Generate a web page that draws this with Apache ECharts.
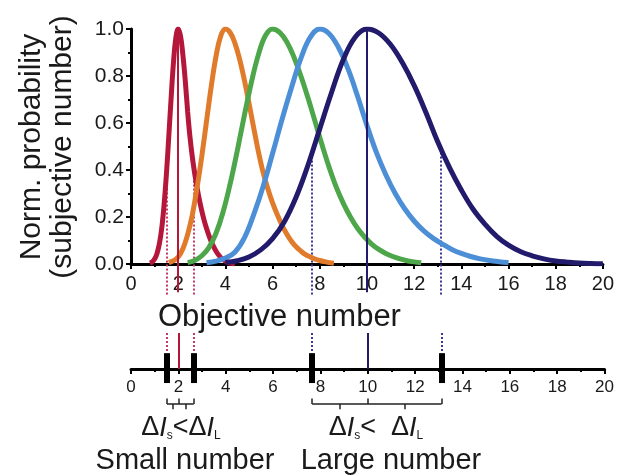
<!DOCTYPE html>
<html><head><meta charset="utf-8">
<script src="https://cdn.jsdelivr.net/npm/echarts@6/dist/echarts.min.js"></script>
<style>html,body{margin:0;padding:0;background:#fff}#c{width:617px;height:475px}</style>
</head><body><div id="c"></div>
<script>
// ---- data ----
const redX    = [0.8, 0.9, 1.0, 1.1, 1.2, 1.3, 1.4, 1.5, 1.6, 1.7, 1.8, 1.9, 2.0, 2.1, 2.2, 2.3, 2.4, 2.5, 2.6, 2.7, 2.8, 2.9, 3.0, 3.1, 3.2, 3.3, 3.4, 3.5, 3.6, 3.7, 3.8, 3.9, 4.0, 4.1, 4.2, 4.3, 4.4];
const redY    = [0.004, 0.009, 0.021, 0.044, 0.085, 0.15, 0.25, 0.38, 0.54, 0.705, 0.857, 0.962, 1.0, 0.969, 0.889, 0.78, 0.65, 0.54, 0.455, 0.385, 0.325, 0.272, 0.226, 0.186, 0.152, 0.122, 0.096, 0.074, 0.055, 0.04, 0.028, 0.019, 0.012, 0.007, 0.004, 0.002, 0.001];
const orangeX = [1.6, 1.8, 2.0, 2.2, 2.4, 2.6, 2.8, 3.0, 3.2, 3.4, 3.6, 3.8, 4.0, 4.2, 4.4, 4.6, 4.8, 5.0, 5.2, 5.4, 5.6, 5.8, 6.0, 6.2, 6.4, 6.6, 6.8, 7.0, 7.2, 7.4, 7.6, 7.8, 8.0, 8.2, 8.4, 8.6];
const orangeY = [0.006, 0.014, 0.03, 0.065, 0.125, 0.21, 0.325, 0.458, 0.607, 0.755, 0.882, 0.969, 1.0, 0.985, 0.941, 0.873, 0.785, 0.685, 0.58, 0.478, 0.39, 0.32, 0.26, 0.21, 0.165, 0.128, 0.097, 0.073, 0.055, 0.04, 0.03, 0.021, 0.015, 0.01, 0.006, 0.003];
const greenX  = [2.4, 2.7, 3.0, 3.3, 3.6, 3.9, 4.2, 4.5, 4.8, 5.1, 5.4, 5.7, 6.0, 6.3, 6.6, 6.9, 7.2, 7.5, 7.8, 8.1, 8.4, 8.7, 9.0, 9.3, 9.6, 9.9, 10.2, 10.5, 10.8, 11.1, 11.4, 11.7, 12.0, 12.3];
const greenY  = [0.006, 0.015, 0.035, 0.07, 0.13, 0.22, 0.34, 0.48, 0.63, 0.772, 0.891, 0.972, 1.0, 0.986, 0.946, 0.882, 0.8, 0.707, 0.607, 0.506, 0.411, 0.327, 0.258, 0.2, 0.152, 0.115, 0.085, 0.062, 0.045, 0.032, 0.022, 0.014, 0.009, 0.005];
const blueX   = [3.2, 3.6, 4.0, 4.4, 4.8, 5.2, 5.6, 6.0, 6.4, 6.8, 7.2, 7.6, 8.0, 8.4, 8.8, 9.2, 9.6, 10.0, 10.4, 10.8, 11.2, 11.6, 12.0, 12.4, 12.8, 13.2, 13.6, 14.0, 14.4, 14.8, 15.2, 15.6, 16.0];
const blueY   = [0.005, 0.012, 0.025, 0.05, 0.11, 0.21, 0.33, 0.47, 0.615, 0.75, 0.875, 0.965, 1.0, 0.98, 0.92, 0.83, 0.715, 0.59, 0.475, 0.38, 0.3, 0.235, 0.183, 0.142, 0.11, 0.085, 0.062, 0.045, 0.032, 0.022, 0.015, 0.01, 0.006];
const navyX   = [4.0, 4.5, 5.0, 5.5, 6.0, 6.5, 7.0, 7.5, 8.0, 8.5, 9.0, 9.5, 10.0, 10.5, 11.0, 11.5, 12.0, 12.5, 13.0, 13.5, 14.0, 14.5, 15.0, 15.5, 16.0, 16.5, 17.0, 17.5, 18.0, 18.5, 19.0, 19.5, 20.0];
const navyY   = [0.006, 0.014, 0.03, 0.06, 0.108, 0.18, 0.285, 0.42, 0.575, 0.73, 0.87, 0.965, 1.0, 0.983, 0.934, 0.857, 0.76, 0.645, 0.52, 0.41, 0.315, 0.233, 0.17, 0.118, 0.08, 0.053, 0.035, 0.022, 0.013, 0.008, 0.004, 0.002, 0.001];

const means        = [2, 10];
const bounds       = [1.52, 2.65, 7.65, 13.12];
const boundHeights = [0.4, 0.42, 0.48, 0.48];
const bracketSmall = [1.52, 2.0, 2.65];
const bracketLarge = [7.65, 10.0, 13.12];

const xMin = 0, xMax = 20, xStep = 2;
const yMin = 0, yMax = 1, yStep = 0.2;

// ---- styling ----
const FONT = "'Liberation Sans', Arial, Helvetica, sans-serif";
const INK = '#1a1a1a';
const colors = { red: '#b5173b', orange: '#e07b2b', green: '#4ea64b', blue: '#4d8fd6', navy: '#221b6c' };
const meanColors  = [colors.red, colors.navy];
const boundColors = ['#c43a62', '#c43a62', '#3b3799', '#3b3799'];

const pairs = (xs, ys) => xs.map((x, i) => [x, ys[i]]);

function curveSeries(xs, ys, color) {
  return { type: 'line', xAxisIndex: 0, yAxisIndex: 0, data: pairs(xs, ys), symbol: 'none',
           smooth: 0.4, lineStyle: { color, width: 5 }, z: 3, silent: true };
}
const ls = (color, width, type) => ({ color, width, type, opacity: 1, cap: 'butt' });

// upper guide lines
const upperDotted = bounds.map((b, i) => ({ coords: [[b, -0.13], [b, boundHeights[i]]],
  lineStyle: ls(boundColors[i], 2, [2, 2]) }));
const upperSolid = means.map((m, i) => ({ coords: [[m, -0.12], [m, 1]],
  lineStyle: ls(meanColors[i], 2, 'solid') }));
// lower number line marks
const lowerDotted = bounds.map((b, i) => ({ coords: [[b, 1], [b, 0.44]],
  lineStyle: ls(boundColors[i], 2, [2, 2]) }));
const lowerSolid = means.map((m, i) => ({ coords: [[m, 1], [m, 0]],
  lineStyle: ls(meanColors[i], 2, 'solid') }));
const lowerBars = bounds.map(b => ({ coords: [[b, 0.44], [b, -0.39]],
  lineStyle: ls('#000', 6, 'solid') }));

function bracket(pts) {
  const segs = [];
  const yb = -0.97;
  const st = ls('#222', 1.5, 'solid');
  segs.push({ coords: [[pts[0], yb], [pts[2], yb]], lineStyle: st });
  pts.forEach(p => segs.push({ coords: [[p, yb], [p, -0.82]], lineStyle: st }));
  const c1 = (pts[0] + pts[1]) / 2, c2 = (pts[1] + pts[2]) / 2;
  segs.push({ coords: [[c1, yb], [c1, -1.12]], lineStyle: st });
  segs.push({ coords: [[c2, yb], [c2, -1.12]], lineStyle: st });
  return segs;
}

const xAxisCommon = {
  type: 'value', min: xMin, max: xMax, interval: xStep,
  splitLine: { show: false },
  axisLine: { onZero: false, lineStyle: { color: '#000', width: 3 } },
  axisTick: { lineStyle: { color: '#000', width: 2 }, length: 5 },
  minorTick: { show: true, splitNumber: 2, length: 3, lineStyle: { color: '#000', width: 2 } },
  minorSplitLine: { show: false }
};

const richSub = {
  n: { fontSize: 27, fontFamily: FONT, fill: INK, lineHeight: 28 },
  i: { fontSize: 27, fontFamily: FONT, fontStyle: 'italic', fill: INK, lineHeight: 28 },
  s: { fontSize: 12, fontFamily: FONT, fill: INK, lineHeight: 12, verticalAlign: 'bottom' }
};

const option = {
  animation: false,
  backgroundColor: '#fff',
  grid: [
    { left: 131, right: 9, top: 29, bottom: 211 },
    { left: 131, right: 9, top: 333, bottom: 106 }
  ],
  xAxis: [
    Object.assign({}, xAxisCommon, { gridIndex: 0,
      axisLabel: { color: INK, fontSize: 20, fontFamily: FONT, margin: 10, showMaxLabel: true } }),
    Object.assign({}, xAxisCommon, { gridIndex: 1,
      axisLabel: { color: INK, fontSize: 17, fontFamily: FONT, margin: 10, showMaxLabel: true } })
  ],
  yAxis: [
    { type: 'value', gridIndex: 0, min: yMin, max: yMax, interval: yStep,
      splitLine: { show: false },
      axisLine: { show: true, lineStyle: { color: '#000', width: 3 } },
      axisTick: { show: true, length: 5, lineStyle: { color: '#000', width: 2 } },
      minorTick: { show: true, splitNumber: 2, length: 3, lineStyle: { color: '#000', width: 2 } },
      axisLabel: { color: INK, fontSize: 21, fontFamily: FONT, margin: 7, formatter: v => v.toFixed(1) } },
    { type: 'value', gridIndex: 1, min: 0, max: 1, show: false, splitLine: { show: false } }
  ],
  series: [
    { type: 'lines', coordinateSystem: 'cartesian2d', xAxisIndex: 0, yAxisIndex: 0, clip: false,
      data: upperDotted, z: 2, silent: true },
    curveSeries(redX, redY, colors.red),
    curveSeries(orangeX, orangeY, colors.orange),
    curveSeries(greenX, greenY, colors.green),
    curveSeries(blueX, blueY, colors.blue),
    curveSeries(navyX, navyY, colors.navy),
    { type: 'lines', coordinateSystem: 'cartesian2d', xAxisIndex: 0, yAxisIndex: 0, clip: false,
      data: upperSolid, z: 4, silent: true },
    { type: 'lines', coordinateSystem: 'cartesian2d', xAxisIndex: 1, yAxisIndex: 1, clip: false,
      data: lowerDotted.concat(lowerSolid), z: 2, silent: true },
    { type: 'lines', coordinateSystem: 'cartesian2d', xAxisIndex: 1, yAxisIndex: 1, clip: false,
      data: lowerBars, z: 5, silent: true },
    { type: 'lines', coordinateSystem: 'cartesian2d', xAxisIndex: 1, yAxisIndex: 1, clip: false,
      data: bracket(bracketSmall).concat(bracket(bracketLarge)), z: 5, silent: true }
  ],
  graphic: [
    { type: 'text', x: 47, y: 147, rotation: Math.PI / 2,
      style: { text: 'Norm. probability\n(subjective number)', fontSize: 30, fontFamily: FONT, fill: INK,
               align: 'center', verticalAlign: 'middle', lineHeight: 31 } },
    { type: 'text', x: 158, y: 317,
      style: { text: 'Objective number', fontSize: 31, fontFamily: FONT, fill: INK,
               align: 'left', verticalAlign: 'middle' } },
    { type: 'text', x: 181, y: 428,
      style: { text: '{n|Δ}{i|I}{s|s}{n|<Δ}{i|I}{s|L}', align: 'center', verticalAlign: 'middle', rich: richSub } },
    { type: 'text', x: 376, y: 428,
      style: { text: '{n|Δ}{i|I}{s|s}{n|<  Δ}{i|I}{s|L}', align: 'center', verticalAlign: 'middle', rich: richSub } },
    { type: 'text', x: 185, y: 461,
      style: { text: 'Small number', fontSize: 29, fontFamily: FONT, fill: INK, align: 'center', verticalAlign: 'middle' } },
    { type: 'text', x: 391, y: 461,
      style: { text: 'Large number', fontSize: 29, fontFamily: FONT, fill: INK, align: 'center', verticalAlign: 'middle' } }
  ]
};

const chart = echarts.init(document.getElementById('c'), null, { renderer: 'canvas' });
chart.setOption(option);
</script>
</body></html>
